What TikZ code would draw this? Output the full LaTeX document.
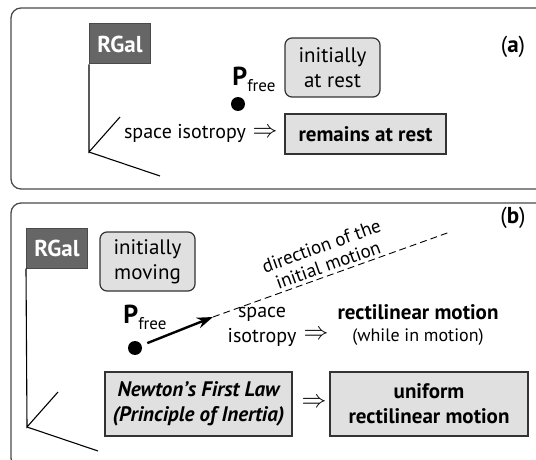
\documentclass[tikz,border=0pt]{standalone}
\usepackage{fontspec}
\setmainfont{PT Sans}
\usetikzlibrary{positioning}
\usetikzlibrary{arrows.meta,calc}
\definecolor{framegray}{HTML}{4A4A4A}
\definecolor{galgray}{HTML}{666666}
\definecolor{boxgray}{HTML}{E0E0E0}
\newcommand{\mainsize}{\fontsize{21}{25}\selectfont}
\newcommand{\smallsize}{\fontsize{18}{19}\selectfont}
\newcommand{\implsign}{{\fontsize{25}{25}\selectfont$\Rightarrow$}}
\tikzstyle{panel}=[draw=framegray,line width=1.3pt,rounded corners=10pt]
\tikzstyle{refbox}=[fill=galgray,draw=framegray,line width=1pt,text=white,font=\fontsize{23}{24}\selectfont\bfseries,minimum width=61pt,minimum height=40pt,inner sep=0pt]
\tikzstyle{statebox}=[rounded corners=7pt,fill=boxgray,draw=black!80,line width=1.2pt,align=center,font=\mainsize,inner sep=0pt,minimum width=95pt,minimum height=59pt]
\tikzstyle{resultbox}=[fill=boxgray,draw=black!80,line width=1.2pt,align=center,font=\mainsize,inner sep=0pt]
\tikzstyle{axis}=[draw,line width=1.1pt]
\tikzstyle{particle}=[circle,fill=black,minimum size=14pt,inner sep=0pt]
\tikzstyle{plain}=[align=center,font=\mainsize,inner sep=0pt]

\begin{document}
\begin{tikzpicture}[x=1pt,y=-1pt]
\useasboundingbox (0,0) rectangle (536,460);
\clip (0,0) rectangle (536,460);

    % the two panels
    \draw[panel] (11,8) rectangle (560,189);
    \draw[panel] (11,203) rectangle (560,468);

    % Galilean frames
    \foreach \pos/\name in {{(120,44)/a}, {(57,248)/b}}
        \node[refbox] (rg\name) at \pos {RGal};

    \foreach \name/\x/\y in {a/89/152, b/27/427} {
        \coordinate (o\name) at (\x,\y);
        \coordinate (y\name) at (\x+31,\y-35);
        \coordinate (z\name) at (\x+71,\y+24);
        \path[axis] (rg\name.south west) -- (o\name) -- (y\name);
        \path[axis] (o\name) -- (z\name);
    }

    \foreach \pos/\name/\label in {{(513,47)/la/a}, {(513,218)/lb/b}}
        \node[font=\fontsize{23}{24}\selectfont] (\name) at \pos {(\textbf{\label})};

    % free particle
    \foreach \pos/\name in {{(238,104)/pa}, {(135,348)/pb}}
        \node[particle] (\name) at \pos {};
    \foreach \pos/\name in {{(254,79)/fa}, {(145,317)/fb}}
        \node[inner sep=0pt] (\name) at \pos {{\fontsize{26}{26}\selectfont\bfseries P}{\fontsize{17}{17}\selectfont\raisebox{-6pt}{free}}};

    % panel (a)
    \node[statebox] (resta) at (332.5,67.5) {initially\\at rest};
    \node[resultbox,minimum width=161pt,minimum height=40pt,font=\mainsize\bfseries] (remain) at (365.5,134) {remains at rest};
    \node[plain,font=\fontsize{20}{24}\selectfont] (isoa) at (185,133) {space isotropy};
    \node[plain] (impa) at (265,133) {\implsign};

    % panel (b)
    \node[statebox] (moving) at (147.5,261.5) {initially\\moving};
    \coordinate (tip) at (213,317);
    \coordinate (far) at (450,232);
    \draw[line width=2.4pt,-{Stealth[length=16pt,width=11pt]},shorten <=6pt] (pb) -- (tip);
    \draw[line width=0.9pt,dash pattern=on 7pt off 4pt] (tip) -- node[pos=0.5,sloped,above=3pt,align=center,font=\fontsize{19}{20}\selectfont,inner sep=0pt] (dir) {direction of the\\initial motion} (far);
    \node[plain,font=\fontsize{20}{25}\selectfont] (isob) at (262,327) {space\\isotropy};
    \node[plain] (impb) at (316,335) {\implsign};
    \node[plain,font=\mainsize\bfseries] (rect) at (418,312) {rectilinear motion};
    \node[plain,font=\smallsize] (while) at (418,337) {(while in motion)};

    \node[resultbox,minimum width=187pt,minimum height=64pt,font=\mainsize\bfseries\itshape] (newton) at (198.5,404) {Newton’s First Law\\(Principle of Inertia)};
    \node[plain] (impc) at (314,403) {\implsign};
    \node[resultbox,minimum width=198pt,minimum height=64pt,font=\mainsize\bfseries] (uniform) at (429,404) {uniform\\rectilinear motion};

\end{tikzpicture}
\end{document}
